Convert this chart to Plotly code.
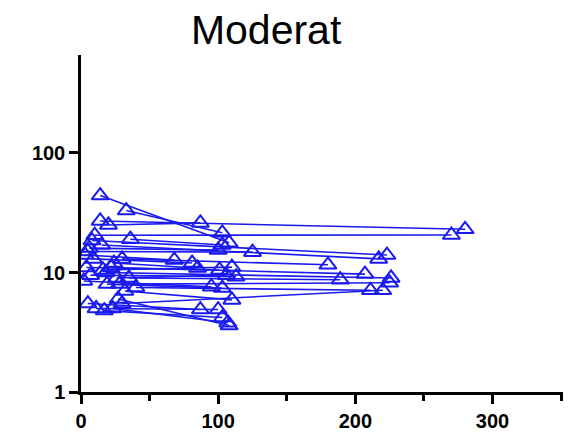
import plotly.graph_objects as go

# paired measurements: early time point -> later time point
x_start = [14, 33, 14, 10, 20, 8, 15, 5, 30, 22, 35, 18, 28, 40, 30,
           6, 3, 9, 24, 4, 16, 7, 26, 2, 19, 32, 5, 11, 17, 23, 27, 36]
y_start = [44, 33, 27, 20.5, 25, 18.5, 17, 15, 13, 11, 9, 10, 8, 7.5, 5.5,
           16, 14, 13, 12, 11, 10.5, 9.5, 9, 8.5, 8, 7, 5.5, 5, 4.8, 5, 6, 19]
x_end = [108, 103, 280, 270, 87, 223, 217, 125, 180, 207, 189, 226, 225, 211, 220,
         100, 68, 81, 85, 101, 110, 113, 106, 95, 103, 110, 87, 100, 103, 107, 108, 103]
y_end = [17.7, 21.5, 23, 20.6, 26, 14, 13, 14.8, 11.6, 9.7, 8.7, 9.0, 8.2, 7.1, 7.1,
         15.4, 12.7, 12, 10.9, 10.5, 11.1, 9.2, 9.5, 7.6, 7.4, 5.9, 4.9, 4.9, 4.2, 3.8, 3.6, 17]

xs, ys = [], []
for a, b, c, d in zip(x_start, y_start, x_end, y_end):
    xs += [a, c, None]
    ys += [b, d, None]

blue = "#1a1aee"
fig = go.Figure(go.Scatter(
    x=xs, y=ys, mode="lines+markers",
    line=dict(color=blue, width=1.6),
    marker=dict(symbol="triangle-up-open", size=15, color=blue, line=dict(width=2, color=blue)),
    showlegend=False, connectgaps=False,
))

fig.update_layout(
    width=571, height=437,
    paper_bgcolor="white", plot_bgcolor="white",
    margin=dict(l=73, r=11, t=47, b=53),
    title=dict(text="Moderat", x=0.452, xanchor="center", y=0.95, yanchor="middle",
               font=dict(family="Arial, Liberation Sans", size=41, color="black")),
    font=dict(family="Arial, Liberation Sans", color="black"),
)
fig.update_xaxes(
    range=[0, 355], showgrid=False, zeroline=False, automargin=False,
    showline=True, linecolor="black", linewidth=2.5,
    ticks="outside", ticklen=9, tickwidth=2.5, tickcolor="black",
    tickvals=[0, 100, 200, 300], ticktext=["<b>0</b>", "<b>100</b>", "<b>200</b>", "<b>300</b>"],
    tickfont=dict(size=20),
    minor=dict(ticks="outside", ticklen=6, tickwidth=2.5, tickcolor="black", tickvals=[50, 150, 250, 350]),
)
fig.update_yaxes(
    type="log", range=[0, 2.82], showgrid=False, zeroline=False, automargin=False,
    showline=True, linecolor="black", linewidth=2.5,
    ticks="outside", ticklen=9, tickwidth=2.5, tickcolor="black",
    tickvals=[1, 10, 100], ticktext=["<b>1</b>", "<b>10</b>", "<b>100</b>"],
    tickfont=dict(size=20),
)
fig.write_html("out.html")
